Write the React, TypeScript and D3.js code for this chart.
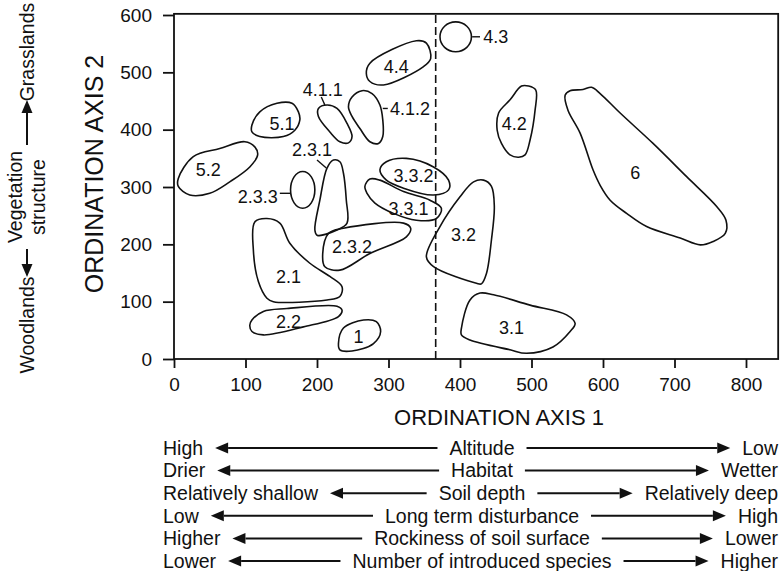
import React, { useEffect, useRef } from "react";
import * as d3 from "d3";

type Pt = [number, number];

// axis ticks
const xTicks = [0, 100, 200, 300, 400, 500, 600, 700, 800];
const yTicks = [0, 100, 200, 300, 400, 500, 600];
const splitAxis1 = 366; // dashed divider on axis 1

// group envelopes, in ordination scores (axis 1, axis 2)
const g1: Pt[] = [[230, 27], [237, 54], [265, 68], [283, 65], [289, 48], [279, 27], [249, 14], [232, 16]];
const g21: Pt[] = [[113, 239], [130, 245], [148, 237], [162, 202], [190, 167], [218, 144], [235, 126], [232, 109], [214, 103], [139, 100], [130, 106], [118, 135], [111, 190]];
const g22: Pt[] = [[109, 68], [125, 83], [158, 88], [228, 92], [235, 85], [230, 74], [181, 56], [125, 42], [109, 48], [106, 59]];
const g231: Pt[] = [[214, 333], [223, 347], [232, 344], [237, 324], [241, 277], [242, 237], [228, 225], [200, 216], [197, 225], [204, 277]];
const g232: Pt[] = [[216, 219], [237, 228], [321, 237], [331, 228], [325, 213], [274, 184], [232, 155], [211, 161], [208, 184]];
const g31: Pt[] = [[402, 54], [414, 103], [428, 115], [447, 112], [498, 94], [549, 77], [561, 62], [554, 48], [530, 21], [493, 10], [470, 16], [414, 33], [402, 42]];
const g32: Pt[] = [[353, 178], [372, 231], [400, 283], [419, 309], [433, 312], [444, 301], [448, 266], [444, 208], [437, 149], [430, 131], [423, 132], [363, 161]];
const g331: Pt[] = [[267, 301], [274, 314], [288, 312], [321, 292], [358, 277], [374, 263], [367, 245], [339, 242], [307, 254], [281, 272], [270, 289]];
const g332: Pt[] = [[288, 330], [297, 344], [325, 350], [363, 335], [384, 312], [384, 295], [363, 286], [321, 298], [297, 312]];
const g411: Pt[] = [[202, 437], [214, 443], [228, 437], [242, 411], [249, 388], [244, 377], [232, 379], [218, 396], [202, 423]];
const g412: Pt[] = [[249, 457], [263, 468], [277, 463], [288, 443], [292, 417], [292, 388], [286, 376], [274, 379], [260, 402], [249, 423], [244, 440]];
const g42: Pt[] = [[454, 429], [470, 452], [486, 476], [496, 476], [506, 469], [505, 434], [498, 382], [491, 356], [482, 352], [470, 356], [458, 376], [452, 399]];
const g44: Pt[] = [[274, 516], [339, 555], [353, 551], [359, 524], [349, 510], [293, 478], [274, 484], [269, 498]];
const g51: Pt[] = [[109, 408], [120, 431], [144, 446], [165, 446], [174, 431], [176, 417], [169, 399], [153, 388], [120, 388], [109, 396]];
const g52: Pt[] = [[6, 315], [27, 353], [64, 367], [99, 379], [113, 370], [117, 356], [106, 335], [78, 309], [50, 289], [22, 286], [6, 301]];
const g6: Pt[] = [[547, 460], [554, 468], [572, 470], [584, 474], [596, 463], [624, 429], [670, 376], [717, 318], [759, 266], [772, 242], [771, 219], [754, 205], [736, 199], [708, 211], [661, 231], [633, 254], [610, 277], [596, 303], [586, 330], [568, 394], [551, 434]];

// groups drawn as plain ellipses: centre and radii in scores
const g43 = { cx: 394, cy: 562, rx: 22, ry: 26 };
const g233 = { cx: 180, cy: 295, rx: 17, ry: 32 };

const groups = [
  { id: "1", pts: g1, at: [258, 39] },
  { id: "2.1", pts: g21, at: [160, 144] },
  { id: "2.2", pts: g22, at: [160, 65] },
  { id: "2.3.1", pts: g231, at: [193, 365] },
  { id: "2.3.2", pts: g232, at: [249, 196] },
  { id: "3.1", pts: g31, at: [472, 54] },
  { id: "3.2", pts: g32, at: [405, 216] },
  { id: "3.3.1", pts: g331, at: [328, 263] },
  { id: "3.3.2", pts: g332, at: [335, 319] },
  { id: "4.1.1", pts: g411, at: [208, 469] },
  { id: "4.1.2", pts: g412, at: [330, 437] },
  { id: "4.2", pts: g42, at: [476, 411] },
  { id: "4.4", pts: g44, at: [311, 510] },
  { id: "5.1", pts: g51, at: [151, 411] },
  { id: "5.2", pts: g52, at: [48, 330] },
  { id: "6", pts: g6, at: [645, 325] },
];

const ellipseGroups = [
  { id: "4.3", e: g43, at: [450, 562] },
  { id: "2.3.3", e: g233, at: [117, 283] },
];

// short label leaders [x1, y1, x2, y2]
const leaders = [
  [417, 562, 428, 562],
  [292, 437, 299, 437],
  [206, 457, 211, 443],
  [200, 347, 213, 333],
  [148, 289, 163, 289],
];

// environmental gradients along axis 1
const leftWords = ["High", "Drier", "Relatively shallow", "Low", "Higher", "Lower"];
const factors = ["Altitude", "Habitat", "Soil depth", "Long term disturbance", "Rockiness of soil surface", "Number of introduced species"];
const rightWords = ["Low", "Wetter", "Relatively deep", "High", "Lower", "Higher"];

const FONT = "'Liberation Sans', Arial, Helvetica, sans-serif";

const App = () => {
  const ref = useRef<SVGSVGElement>(null);

  useEffect(() => {
    const svg = d3.select(ref.current);
    svg.selectAll("*").remove();

    const x = d3.scaleLinear().domain([0, 800]).range([174, 746]);
    const y = d3.scaleLinear().domain([0, 600]).range([359, 15]);
    const xMax = 845;
    const yMax = 602;

    // frame
    svg
      .append("rect")
      .attr("x", x(0))
      .attr("y", y(yMax))
      .attr("width", x(xMax) - x(0))
      .attr("height", y(0) - y(yMax))
      .attr("fill", "none")
      .attr("stroke", "#111")
      .attr("stroke-width", 1.8);

    // axes
    const ax = svg
      .append("g")
      .attr("transform", `translate(0,${y(0)})`)
      .call(d3.axisBottom(x).tickValues(xTicks).tickSize(9).tickPadding(10));
    const ay = svg
      .append("g")
      .attr("transform", `translate(${x(0)},0)`)
      .call(d3.axisLeft(y).tickValues(yTicks).tickSize(11).tickPadding(11));
    [ax, ay].forEach((g) => {
      g.select(".domain").remove();
      g.selectAll("line").attr("stroke", "#111").attr("stroke-width", 1.8);
      g.selectAll("text").attr("font-family", FONT).attr("font-size", 19).attr("fill", "#111");
    });

    // axis titles
    svg
      .append("text")
      .attr("x", 499)
      .attr("y", 417)
      .attr("dy", "0.35em")
      .attr("text-anchor", "middle")
      .attr("font-family", FONT)
      .attr("font-size", 22)
      .attr("fill", "#111")
      .text("ORDINATION AXIS 1");
    svg
      .append("text")
      .attr("transform", "translate(94,174) rotate(-90)")
      .attr("dy", "0.35em")
      .attr("text-anchor", "middle")
      .attr("font-family", FONT)
      .attr("font-size", 25)
      .attr("fill", "#111")
      .text("ORDINATION AXIS 2");

    // dashed divider
    svg
      .append("line")
      .attr("x1", x(splitAxis1))
      .attr("x2", x(splitAxis1))
      .attr("y1", y(0))
      .attr("y2", y(yMax))
      .attr("stroke", "#111")
      .attr("stroke-width", 1.6)
      .attr("stroke-dasharray", "8,4");

    // group envelopes
    const outline = d3
      .line<Pt>()
      .x((d) => x(d[0]))
      .y((d) => y(d[1]))
      .curve(d3.curveCatmullRomClosed.alpha(0.5));

    svg
      .selectAll(".grp")
      .data(groups)
      .enter()
      .append("path")
      .attr("class", "grp")
      .attr("d", (d) => outline(d.pts))
      .attr("fill", "none")
      .attr("stroke", "#111")
      .attr("stroke-width", 1.6);

    svg
      .selectAll(".egrp")
      .data(ellipseGroups)
      .enter()
      .append("ellipse")
      .attr("class", "egrp")
      .attr("cx", (d) => x(d.e.cx))
      .attr("cy", (d) => y(d.e.cy))
      .attr("rx", (d) => x(d.e.rx) - x(0))
      .attr("ry", (d) => y(0) - y(d.e.ry))
      .attr("fill", "none")
      .attr("stroke", "#111")
      .attr("stroke-width", 1.6);

    svg
      .selectAll(".leader")
      .data(leaders)
      .enter()
      .append("line")
      .attr("class", "leader")
      .attr("x1", (d) => x(d[0]))
      .attr("y1", (d) => y(d[1]))
      .attr("x2", (d) => x(d[2]))
      .attr("y2", (d) => y(d[3]))
      .attr("stroke", "#111")
      .attr("stroke-width", 1.4);

    svg
      .selectAll(".glabel")
      .data([...groups, ...ellipseGroups])
      .enter()
      .append("text")
      .attr("class", "glabel")
      .attr("x", (d) => x(d.at[0]))
      .attr("y", (d) => y(d.at[1]))
      .attr("dy", "0.35em")
      .attr("text-anchor", "middle")
      .attr("font-family", FONT)
      .attr("font-size", 18)
      .attr("fill", "#111")
      .text((d) => d.id);

    // arrow helper: line from (x1,y1) to tip (x2,y2) with a filled head
    const arrow = (x1: number, y1: number, x2: number, y2: number) => {
      const a = Math.atan2(y2 - y1, x2 - x1);
      const hl = 13;
      const hw = 5.5;
      const bx = x2 - hl * Math.cos(a);
      const by = y2 - hl * Math.sin(a);
      svg
        .append("line")
        .attr("x1", x1)
        .attr("y1", y1)
        .attr("x2", bx)
        .attr("y2", by)
        .attr("stroke", "#111")
        .attr("stroke-width", 2);
      svg
        .append("path")
        .attr(
          "d",
          `M${x2},${y2}L${bx - hw * Math.sin(a)},${by + hw * Math.cos(a)}L${bx + hw * Math.sin(a)},${by - hw * Math.cos(a)}Z`
        )
        .attr("fill", "#111");
    };

    // gradient rows under axis 1
    const left = 163;
    const right = 778;
    const mid = 482;
    const gap = 12;
    factors.forEach((f, i) => {
      const yy = 448 + i * 22.6;
      const put = (s: string, xx: number, anchor: string) =>
        svg
          .append("text")
          .attr("x", xx)
          .attr("y", yy)
          .attr("dy", "0.35em")
          .attr("text-anchor", anchor)
          .attr("font-family", FONT)
          .attr("font-size", 19.5)
          .attr("fill", "#111")
          .text(s);
      const wl = (put(leftWords[i], left, "start").node() as SVGTextElement).getComputedTextLength();
      const wc = (put(f, mid, "middle").node() as SVGTextElement).getComputedTextLength();
      const wr = (put(rightWords[i], right, "end").node() as SVGTextElement).getComputedTextLength();
      arrow(mid - wc / 2 - gap, yy, left + wl + gap, yy);
      arrow(mid + wc / 2 + gap, yy, right - wr - gap, yy);
    });

    // vegetation structure gradient on the left
    const vt = (s: string, xx: number, yy: number) =>
      svg
        .append("text")
        .attr("transform", `translate(${xx},${yy}) rotate(-90)`)
        .attr("dy", "0.35em")
        .attr("text-anchor", "middle")
        .attr("font-family", FONT)
        .attr("font-size", 19.5)
        .attr("fill", "#111")
        .text(s);
    vt("Grasslands", 27, 52);
    vt("Vegetation", 15, 197);
    vt("structure", 38, 197);
    vt("Woodlands", 27, 325);
    arrow(27, 145, 27, 100);
    arrow(27, 249, 27, 277);
  }, []);

  return (
    <div style={{ position: "absolute", left: 0, top: 0 }}>
      <svg ref={ref} width={780} height={571} style={{ display: "block", background: "#fff" }} />
    </div>
  );
};

export default App;
